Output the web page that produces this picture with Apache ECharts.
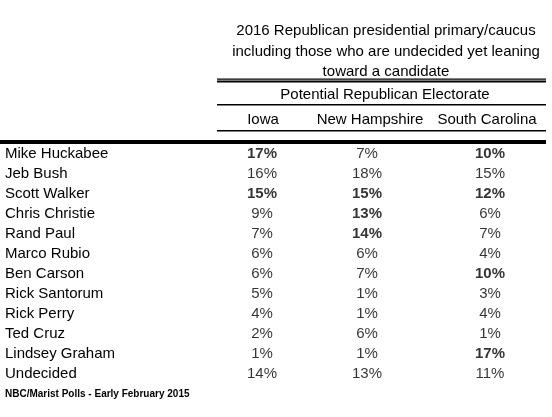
<!DOCTYPE html>
<html>
<head>
<meta charset="utf-8">
<script src="https://cdn.jsdelivr.net/npm/echarts@6/dist/echarts.min.js"></script>
<style>
html,body{margin:0;padding:0;background:#fff;}
#main{width:552px;height:417px;}
</style>
</head>
<body>
<div id="main"></div>
<script>
var candidates = ['Mike Huckabee','Jeb Bush','Scott Walker','Chris Christie','Rand Paul','Marco Rubio','Ben Carson','Rick Santorum','Rick Perry','Ted Cruz','Lindsey Graham','Undecided'];
var states = ['Iowa','New Hampshire','South Carolina'];
var iowa = [17,16,15,9,7,6,6,5,4,2,1,14];
var newHampshire = [7,18,15,13,14,6,7,1,1,6,1,13];
var southCarolina = [10,15,12,6,7,4,10,3,4,1,17,11];
var iowaBold = [1,0,1,0,0,0,0,0,0,0,0,0];
var newHampshireBold = [0,0,1,1,1,0,0,0,0,0,0,0];
var southCarolinaBold = [1,0,1,0,0,0,1,0,0,0,1,0];
var titleLines = ['2016 Republican presidential primary/caucus','including those who are undecided yet leaning','toward a candidate'];
var groupTitle = 'Potential Republican Electorate';
var footer = 'NBC/Marist Polls - Early February 2015';

var FONT = '"Liberation Sans", Arial, sans-serif';
var columns = [iowa, newHampshire, southCarolina];
var bolds = [iowaBold, newHampshireBold, southCarolinaBold];
var gridLefts = [222, 327, 450];
var headerPads = [[0,0,0,2],[0,0,0,6],[0,6,0,0]];

var grids = [], xAxes = [], yAxes = [], series = [];
for (var c = 0; c < 3; c++) {
  grids.push({left: gridLefts[c], width: 80, top: 144, height: 240});
  xAxes.push({
    type: 'category', gridIndex: c, data: [states[c]], position: 'top',
    axisLine: {show: false}, axisTick: {show: false}, splitLine: {show: false},
    axisLabel: {show: true, margin: 24, verticalAlign: 'middle', color: '#000', fontSize: 15, fontFamily: FONT, padding: headerPads[c]}
  });
  yAxes.push({
    type: 'category', gridIndex: c, data: candidates, inverse: true,
    axisLine: {show: false}, axisTick: {show: false}, splitLine: {show: false},
    axisLabel: c === 0 ? {show: true, align: 'left', margin: 217, color: '#000', fontSize: 15, fontFamily: FONT} : {show: false}
  });
  var d = [];
  for (var i = 0; i < candidates.length; i++) {
    d.push({
      value: [0, i, columns[c][i]],
      label: {fontWeight: bolds[c][i] ? 'bold' : 'normal'}
    });
  }
  series.push({
    type: 'scatter', xAxisIndex: c, yAxisIndex: c, data: d,
    symbolSize: 1, itemStyle: {color: 'rgba(0,0,0,0)'}, silent: true,
    label: {show: true, position: 'inside', color: '#000', fontSize: 15, fontFamily: FONT,
      formatter: function (p) { return p.value[2] + '%'; }}
  });
}

var chart = echarts.init(document.getElementById('main'), null, {renderer: 'canvas'});
chart.setOption({
  backgroundColor: '#fff',
  animation: false,
  title: [
    {text: titleLines.join('\n'), left: 386, top: 20.75, textAlign: 'center', padding: 0,
     textStyle: {fontSize: 15, lineHeight: 20.5, fontWeight: 'normal', color: '#000', fontFamily: FONT}},
    {text: groupTitle, left: 385, top: 87, textAlign: 'center', padding: 0,
     textStyle: {fontSize: 15, lineHeight: 16, fontWeight: 'normal', color: '#000', fontFamily: FONT}},
    {text: footer, left: 5, top: 388, padding: 0,
     textStyle: {fontSize: 10, lineHeight: 12, fontWeight: 'bold', color: '#000', fontFamily: FONT}}
  ],
  grid: grids,
  xAxis: xAxes,
  yAxis: yAxes,
  series: series,
  graphic: [
    {type: 'rect', shape: {x: 217, y: 78.5, width: 329, height: 1.2}, style: {fill: '#000'}},
    {type: 'rect', shape: {x: 217, y: 80.5, width: 329, height: 2}, style: {fill: '#000'}},
    {type: 'rect', shape: {x: 217, y: 104, width: 329, height: 1.5}, style: {fill: '#000'}},
    {type: 'rect', shape: {x: 217, y: 130, width: 329, height: 1.5}, style: {fill: '#000'}},
    {type: 'rect', shape: {x: 0, y: 140, width: 546, height: 4}, style: {fill: '#000'}}
  ]
});
</script>
</body>
</html>
